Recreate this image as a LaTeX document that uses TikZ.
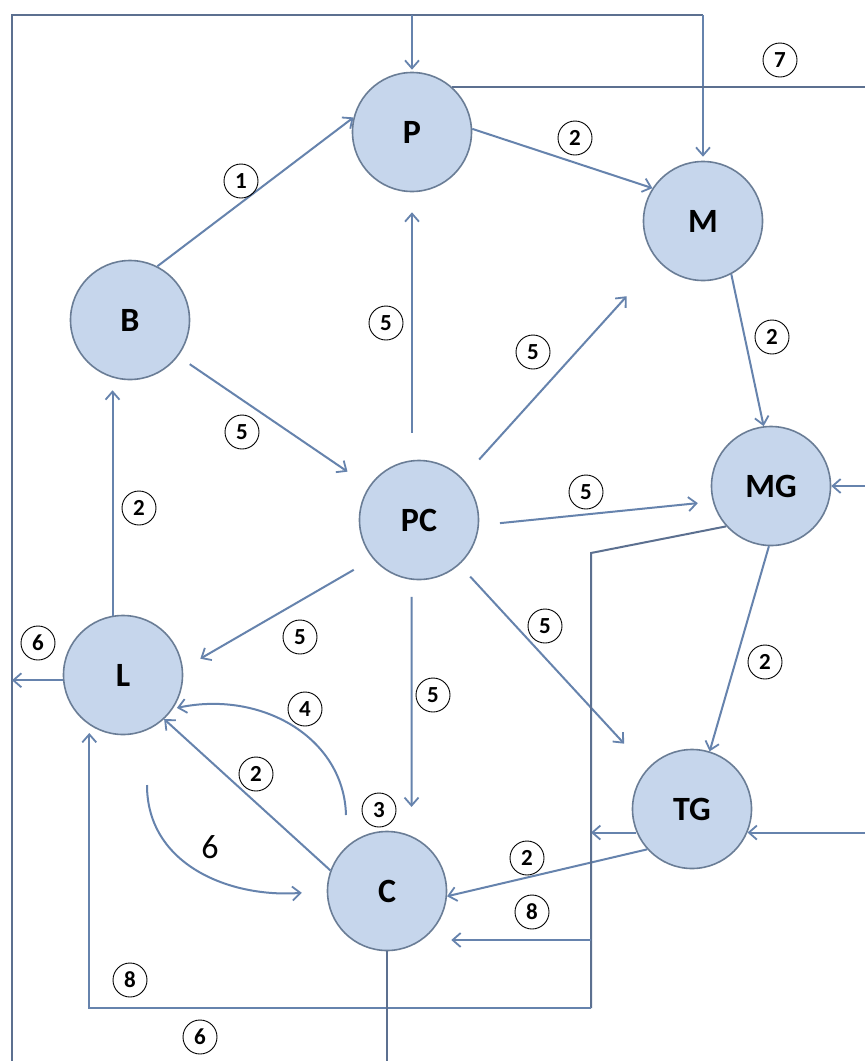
\documentclass[tikz,border=0pt]{standalone}
\usepackage{fontspec}
\setmainfont{Carlito}
\usetikzlibrary{arrows.meta,calc}
\definecolor{nodefill}{HTML}{C6D6EC}
\definecolor{nodeborder}{HTML}{6A7D96}
\definecolor{linecol}{HTML}{6683AD}
\definecolor{framecol}{HTML}{5C7090}
\begin{document}
\begin{tikzpicture}[x=1pt,y=-1pt,
  state/.style={circle, draw=nodeborder, line width=1.6pt, fill=nodefill, minimum size=119pt, inner sep=0pt, font=\fontsize{34}{34}\selectfont\bfseries},
  num/.style={circle, draw=black, line width=0.9pt, minimum size=34pt, inner sep=0pt, font=\fontsize{23}{23}\selectfont\bfseries},
  bignum/.style={font=\fontsize{34}{34}\selectfont},
  link/.style={draw=linecol, line width=2pt, -{Straight Barb[length=8pt,width=14pt,line width=1.8pt]}},
  wire/.style={draw=framecol, line width=2pt},
]
\fill[white] (0,0) rectangle (865,1061);
\useasboundingbox (0,0) rectangle (865,1061);
% coordinates
\coordinate (TL) at (12,15);
\coordinate (BL) at (12,1061);
\coordinate (RE) at (865,0);
\coordinate (fb) at (591,553);
\coordinate (fbb) at (591,1008);
\coordinate (fc) at (591,940);
\coordinate (c4s) at (346,815);
\coordinate (c6s) at (147,785);
% nodes
\node[state] (P) at (412,132) {P};
\node[state] (M) at (703,221) {M};
\node[state] (B) at (130,320) {B};
\node[state] (MG) at (771,486) {MG};
\node[state] (PC) at (419,520) {PC};
\node[state] (L) at (123,675) {L};
\node[state] (TG) at (692,809) {TG};
\node[state] (C) at (387,891) {C};
% frame
\draw[wire] (BL) -- (TL) -- (TL -| M);
\draw[link, shorten >=2pt] (TL -| P) -- (P.north);
\draw[link, shorten >=4pt] (TL -| M) -- (M.north);
\draw[wire] (P.48) -- (P.48 -| RE);
% edges
\draw[link] (B.63) -- (P.166);
\draw[link] (P.3) -- (M.147);
\draw[link] (M.-62) -- (MG.97);
\draw[link] (MG.-92) -- (TG.73);
\draw[link] (TG.222) -- (C.-5);
\draw[link] (C.160) -- (L.-47);
\draw[link, shorten >=10pt] (L.100) -- (L.100 |- B.south);
\draw[link, shorten <=14pt, shorten >=26pt] (B.-37) -- (PC.146);
\draw[link, shorten <=27pt, shorten >=20pt] (P |- PC.north) -- (P.south);
\draw[link, shorten <=25pt, shorten >=47pt] (PC.44) -- (M.222);
\draw[link, shorten <=21pt, shorten >=15pt] (PC.-5) -- (MG.195);
\draw[link, shorten <=16pt, shorten >=34pt] (PC.-48) -- (TG.138);
\draw[link, shorten <=17pt, shorten >=29pt] (PC.-97) -- (C.66);
\draw[link, shorten <=22pt, shorten >=20pt] (PC.220) -- (L.6);
\draw[link, shorten >=4pt] (c4s) .. controls (344,738) and (262,690) .. (L.-34);
\draw[link, shorten >=25pt] (c6s) .. controls (147,865) and (230,898) .. (C.180);
\draw[link] (L.185) -- (L.185 -| TL);
\draw[link] (MG.0 -| RE) -- (MG.0);
\draw[link] (TG.-23 -| RE) -- (TG.-23);
\draw[link] (TG.203) -- (TG.203 -| fb);
\draw[wire] (MG.222) -- (fb) -- (fbb);
\draw[link, shorten >=8pt] (fbb) -| (L.-124);
\draw[link, shorten >=4pt] (fc) -- (fc -| C.east);
\draw[wire] (C.south) -- (C.south |- BL);
% labels
\node[num] (n1) at (241,181) {1};
\node[num] (n2) at (575,138) {2};
\node[num] (n3) at (780,60) {7};
\node[num] (n4) at (386,323) {5};
\node[num] (n5) at (533,352) {5};
\node[num] (n6) at (772,337) {2};
\node[num] (n7) at (242,432) {5};
\node[num] (n8) at (139,508) {2};
\node[num] (n9) at (586,492) {5};
\node[num] (n10) at (300,637) {5};
\node[num] (n11) at (545,626) {5};
\node[num] (n12) at (765,662) {2};
\node[num] (n13) at (38,643) {6};
\node[num] (n14) at (305,709) {4};
\node[num] (n15) at (433,695) {5};
\node[num] (n16) at (256,774) {2};
\node[num] (n17) at (379,810) {3};
\node[num] (n18) at (527,858) {2};
\node[num] (n19) at (532,912) {8};
\node[num] (n20) at (130,980) {8};
\node[num] (n21) at (200,1037) {6};
\node[bignum] (b6) at (210,847) {6};
\end{tikzpicture}
\end{document}
